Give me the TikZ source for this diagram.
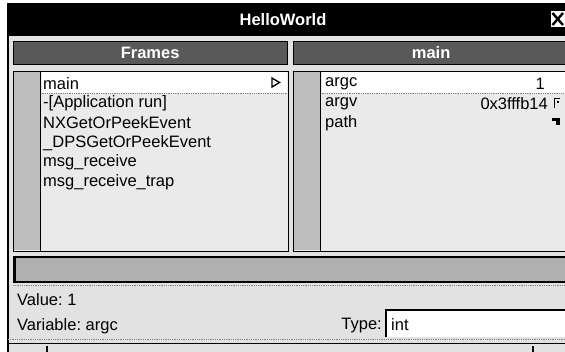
\documentclass[tikz,border=0pt]{standalone}
\usepackage{fontspec}
\setmainfont{Liberation Sans}
\definecolor{bg}{HTML}{E2E2E2}
\definecolor{listbg}{HTML}{EAEAEA}
\definecolor{stripe}{HTML}{BDBDBD}
\definecolor{hdr}{HTML}{595959}
\definecolor{barc}{HTML}{B0B0B0}
\begin{document}
\begin{tikzpicture}[x=1pt,y=-1pt,
  txt/.style={font=\fontsize{16.5}{18}\selectfont, inner sep=0pt, anchor=west},
  rtxt/.style={font=\fontsize{16.5}{18}\selectfont, inner sep=0pt, anchor=east},
  hdrtxt/.style={font=\fontsize{16.5}{18}\selectfont\bfseries, text=white, inner sep=0pt},
  hdrbox/.style={draw=black, line width=1.2pt, fill=hdr, anchor=north west, inner sep=0pt, minimum height=23pt},
  listbox/.style={draw=black, line width=1.2pt, fill=listbg, anchor=north west, inner sep=0pt, minimum height=180pt},
  dotline/.style={densely dotted, gray, line width=0.8pt}
]
\useasboundingbox (0,0) rectangle (565,352);
\fill[white] (0,0) rectangle (565,352);
\fill[bg] (8,36) rectangle (566,352);
% title bar
\fill[black] (8,3) rectangle (566,36);
\node[hdrtxt] (title) at (283,20) {HelloWorld};
\node[draw=black, fill=white, anchor=north west, inner sep=0pt, minimum width=15pt, minimum height=17pt] (close) at (550,10.5) {};
\draw[line width=2.4pt] (552.5,13) -- (563,25) (563,13) -- (552.5,25);
% window left border
\draw[line width=1.3pt] (8,3) -- (8,352);
% headers
\node[hdrbox, minimum width=274pt] (framesh) at (12.5,41) {};
\node[hdrtxt] (framest) at (framesh.center) {Frames};
\node[hdrbox, minimum width=275pt] (mainh) at (293,41) {};
\node[hdrtxt] (maint) at (mainh.center) {main};
% left list
\node[listbox, minimum width=275pt] (leftlist) at (12.5,71) {};
\fill[stripe] (13.5,72) rectangle (40,250);
\draw[line width=1.2pt] (40.5,71) -- (40.5,251);
\fill[white] (41.5,72) rectangle (286.5,93);
\draw[dotline] (41.5,93.8) -- (286.5,93.8);
\node[txt] (f1) at (43,83.5) {main};
\node[txt] (f2) at (43,103.3) {-[Application run]};
\node[txt] (f3) at (43,123) {NXGetOrPeekEvent};
\node[txt] (f4) at (43,142.7) {\_DPSGetOrPeekEvent};
\node[txt] (f5) at (43,162.5) {msg\_receive};
\node[txt] (f6) at (43,182.3) {msg\_receive\_trap};
\draw[line width=1.3pt, line join=miter] (272,78) -- (279.5,82.5) -- (272,87) -- cycle;
% right list
\node[listbox, minimum width=274pt] (rightlist) at (293,71) {};
\fill[stripe] (294,72) rectangle (320,250);
\draw[line width=1.2pt] (320.5,71) -- (320.5,251);
\fill[white] (321.5,72) rectangle (566,93);
\draw[dotline] (321.5,93.8) -- (566,93.8);
\node[txt] (v1) at (325,83.5) {argc};
\node[rtxt] (v1v) at (545,83.5) {1};
\node[txt] (v2) at (325,103.3) {argv};
\node[rtxt] (v2v) at (548,103.3) {0x3fffb14};
\node[txt] (v3) at (325,123) {path};
\draw[line width=1.4pt] (554.5,108) -- (554.5,98.5) -- (560,98.5);
\fill (557,101) rectangle (559,103);
\fill (552,118) rectangle (560,121);
\fill (556,118) rectangle (560,125.5);
% horizontal bar
\fill[barc] (13,257) rectangle (566,282);
\draw[line width=1.2pt] (13,282) -- (566,282);
\draw[line width=1.4pt] (13,257) -- (566,257);
\draw[line width=2.6pt] (14.5,256) -- (14.5,282.5);
\draw[dotline] (13,285) -- (566,285);
% value and variable
\node[txt] (val) at (17,300) {Value:\ 1};
\node[txt] (var) at (17,326) {Variable:\ argc};
\node[rtxt] (typel) at (382,326) {Type:};
\fill[white] (385,310) rectangle (566,337);
\draw[line width=1.4pt] (386,337) -- (386,310) -- (566,310);
\node[txt] (typev) at (391,325) {int};
% bottom strip
\draw[dotline] (8,339.5) -- (566,339.5);
\draw[line width=1.2pt] (8,343.5) -- (566,343.5);
\draw[line width=1.2pt] (47,346) -- (47,352);
\draw[line width=1.2pt] (533,346) -- (533,352);
\end{tikzpicture}
\end{document}
